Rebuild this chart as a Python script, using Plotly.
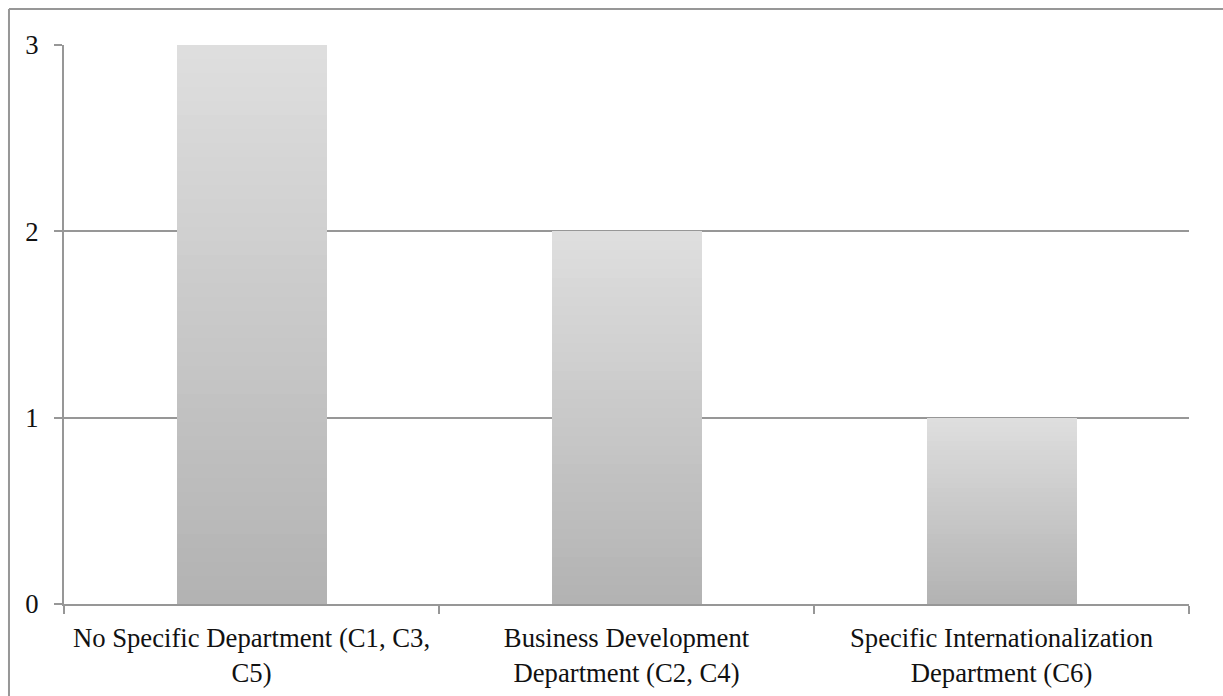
import plotly.graph_objects as go

# Departments handling internationalization and number of cases in each
categories = [
    "No Specific Department (C1, C3,<br>C5)",
    "Business Development<br>Department (C2, C4)",
    "Specific Internationalization<br>Department (C6)",
]
counts = [3, 2, 1]
y_ticks = [0, 1, 2, 3]

# Each bar is built from thin stacked slices to give a vertical grey gradient
N_SLICES = 40
BOTTOM_GREY = 179
TOP_GREY = 222

fig = go.Figure()
for i in range(N_SLICES):
    t = i / (N_SLICES - 1)
    g = round(BOTTOM_GREY + (TOP_GREY - BOTTOM_GREY) * t)
    fig.add_trace(go.Bar(
        x=categories,
        y=[c / N_SLICES for c in counts],
        marker=dict(color=f"rgb({g},{g},{g})", line=dict(width=0)),
        hoverinfo="skip",
        showlegend=False,
    ))

axis_grey = "#979797"
font = dict(family="Liberation Serif, Times New Roman, serif", size=26.7, color="#111111")

fig.update_layout(
    width=1223,
    height=696,
    margin=dict(l=64, r=34, t=45, b=92),
    paper_bgcolor="white",
    plot_bgcolor="white",
    barmode="stack",
    bargap=0.6,
    font=font,
    xaxis=dict(
        showline=True, linecolor=axis_grey, linewidth=2,
        ticks="outside", tickson="boundaries", ticklen=8, tickwidth=2, tickcolor=axis_grey,
        showgrid=False, tickfont=font, ticklabelstandoff=9, automargin=False,
    ),
    yaxis=dict(
        range=[0, 3], tickvals=y_ticks,
        showline=True, linecolor=axis_grey, linewidth=2,
        ticks="outside", ticklen=8, tickwidth=2, tickcolor=axis_grey,
        showgrid=True, gridcolor=axis_grey, gridwidth=2,
        zeroline=False, tickfont=font, ticklabelstandoff=10, automargin=False,
    ),
    shapes=[
        # outer frame (top and left edges)
        dict(type="line", xref="paper", yref="paper", x0=-0.0489, x1=1.031, y0=1.0644, y1=1.0644,
             line=dict(color=axis_grey, width=2)),
        dict(type="line", xref="paper", yref="paper", x0=-0.0489, x1=-0.0489, y0=1.0644, y1=-0.166,
             line=dict(color=axis_grey, width=2)),
    ],
)

fig.write_html("out.html")
